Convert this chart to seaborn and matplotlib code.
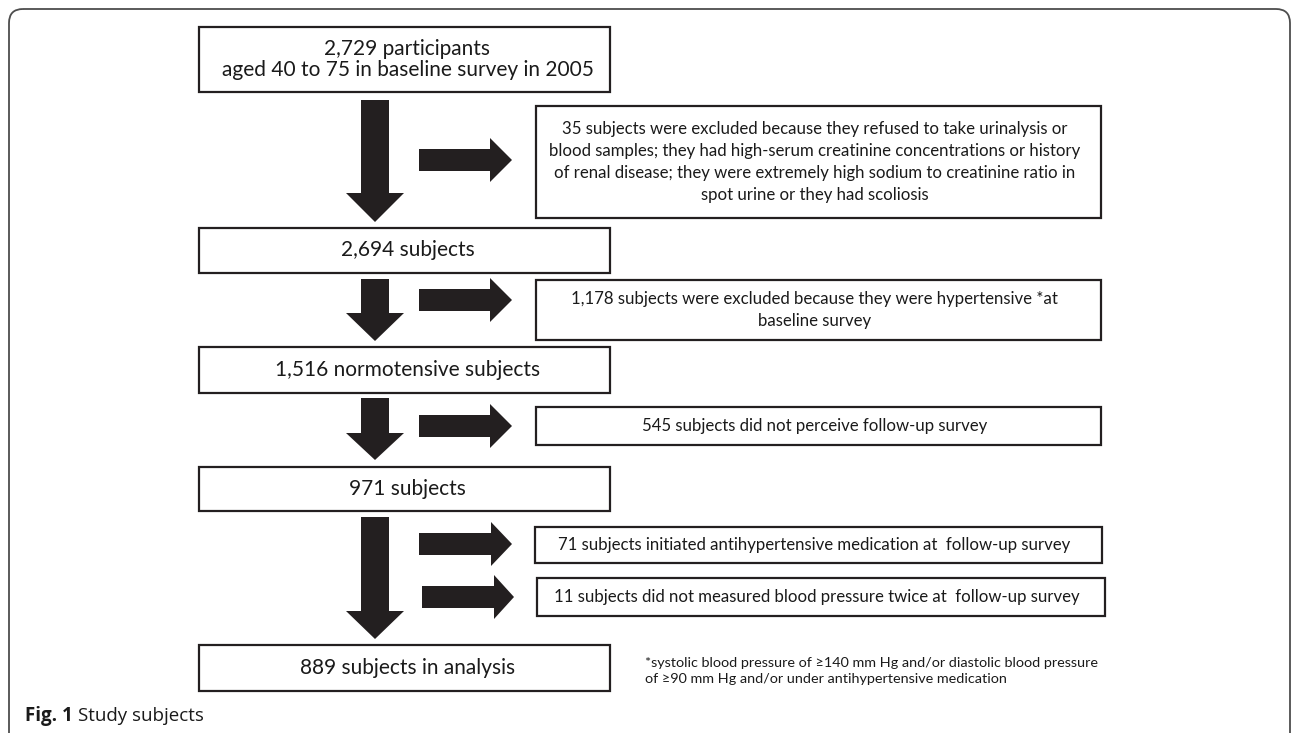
import numpy as np
import matplotlib
matplotlib.use("Agg")
import matplotlib.pyplot as plt
import seaborn as sns
from matplotlib.patches import Rectangle, Polygon, FancyBboxPatch

# flow chart content
main_labels = ["2,729 participants\naged 40 to 75 in baseline survey in 2005",
               "2,694 subjects",
               "1,516 normotensive subjects",
               "971 subjects",
               "889 subjects in analysis"]
side_labels = ["35 subjects were excluded because they refused to take urinalysis or\n"
               "blood samples; they had high-serum creatinine concentrations or history\n"
               "of renal disease; they were extremely high sodium to creatinine ratio in\n"
               "spot urine or they had scoliosis",
               "1,178 subjects were excluded because they were hypertensive *at\nbaseline survey",
               "545 subjects did not perceive follow-up survey",
               "71 subjects initiated antihypertensive medication at  follow-up survey",
               "11 subjects did not measured blood pressure twice at  follow-up survey"]
footnote = ("*systolic blood pressure of \u2265140 mm Hg and/or diastolic blood pressure\n"
            "of \u226590 mm Hg and/or under antihypertensive medication")
caption_bold = "Fig. 1"
caption_text = "Study subjects"

# layout (pixel coords, y downwards)
W, H = 1292, 733
main_x = (199, 610)
main_y = [(27, 92), (228, 273), (347, 393), (467, 511), (645, 691)]
side_box = [(536, 1101, 106, 218), (536, 1101, 280, 340), (536, 1101, 407, 445),
            (535, 1102, 527, 563), (537, 1105, 578, 616)]
down_arrows = [(100, 193, 222), (279, 313, 341), (398, 433, 460), (517, 611, 639)]
right_arrows = [(419, 490, 512, 160), (419, 490, 512, 300), (419, 490, 512, 426),
                (419, 491, 512, 544), (422, 494, 514, 597)]
ink = "#231f20"

sns.set_theme(style="white")
plt.rcParams['font.family'] = ['Lato', 'DejaVu Sans']

fig = plt.figure(figsize=(W / 100, H / 100), dpi=100)
ax = fig.add_axes([0, 0, 1, 1])
ax.set_xlim(0, W)
ax.set_ylim(H, 0)
ax.axis('off')

# outer frame
ax.add_patch(FancyBboxPatch((9, 9), 1281, 790, boxstyle="round,pad=0,rounding_size=14",
                            fill=False, ec="#4d4d4d", lw=1.3))

# main boxes
for lab, (y0, y1) in zip(main_labels, main_y):
    ax.add_patch(Rectangle((main_x[0], y0), main_x[1] - main_x[0], y1 - y0,
                           fill=False, ec=ink, lw=1.6))
    ax.text((main_x[0] + main_x[1]) / 2 + 3, (y0 + y1) / 2, lab, ha='center', va='center',
            fontsize=15, color='#1a1a1a', linespacing=1.1)

# side boxes
for lab, (x0, x1, y0, y1) in zip(side_labels, side_box):
    ax.add_patch(Rectangle((x0, y0), x1 - x0, y1 - y0, fill=False, ec=ink, lw=1.6))
    ax.text((x0 + x1) / 2 - 4, (y0 + y1) / 2, lab, ha='center', va='center',
            fontsize=12.1, color='#1a1a1a', linespacing=1.45)

# downward arrows
cx = 375
for top, base, tip in down_arrows:
    pts = [(cx - 14, top), (cx + 14, top), (cx + 14, base), (cx + 29, base),
           (cx, tip), (cx - 29, base), (cx - 14, base)]
    ax.add_patch(Polygon(pts, closed=True, fc=ink, ec='none'))

# arrows to the exclusion boxes
for x0, xb, xt, yc in right_arrows:
    pts = [(x0, yc - 11), (xb, yc - 11), (xb, yc - 22), (xt, yc), (xb, yc + 22),
           (xb, yc + 11), (x0, yc + 11)]
    ax.add_patch(Polygon(pts, closed=True, fc=ink, ec='none'))

ax.text(645, 671, footnote, ha='left', va='center', fontsize=10.4,
        color='#1a1a1a', linespacing=1.4)

t = ax.text(25, 716, caption_bold, ha='left', va='center', fontsize=13.5,
            fontweight='bold', color='#1a1a1a', family=['Open Sans', 'DejaVu Sans'])
fig.canvas.draw()
bb = t.get_window_extent().transformed(ax.transData.inverted())
ax.text(bb.x1 + 5, 716, caption_text, ha='left', va='center', fontsize=13.5,
        color='#1a1a1a', family=['Open Sans', 'DejaVu Sans'])

fig.savefig("out.png", dpi=100)
